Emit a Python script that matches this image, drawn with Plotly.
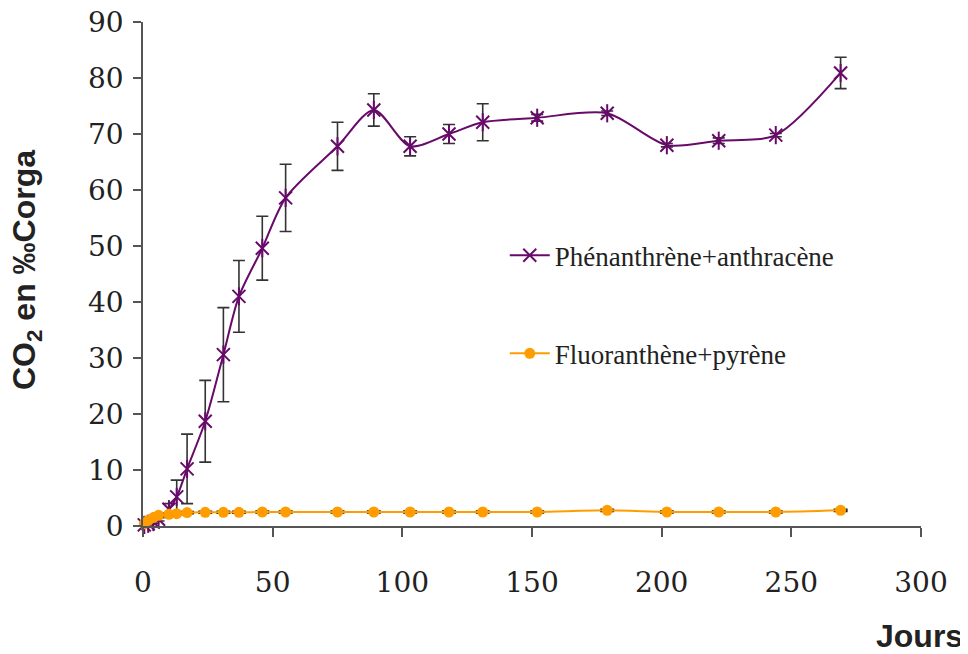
import plotly.graph_objects as go

# --- data ---
days = [0.5, 2, 4, 6, 10, 13, 17, 24, 31, 37, 46, 55, 75, 89, 103, 118, 131, 152, 179, 202, 222, 244, 269]
phen_anth = [0.2, 0.4, 0.7, 1.2, 3.0, 5.2, 10.2, 18.7, 30.6, 41.0, 49.6, 58.6, 67.8, 74.3, 67.8, 70.0, 72.1, 72.9, 73.7, 68.0, 68.8, 69.8, 80.9]
phen_anth_err = [0.1, 0.1, 0.2, 0.3, 1.0, 3.0, 6.2, 7.3, 8.4, 6.4, 5.7, 6.0, 4.3, 2.9, 1.7, 1.7, 3.3, 0.6, 0.4, 0.3, 0.5, 0.3, 2.8]
fluo_pyr = [0.4, 1.0, 1.5, 1.9, 2.1, 2.2, 2.4, 2.45, 2.45, 2.45, 2.5, 2.5, 2.5, 2.5, 2.5, 2.5, 2.5, 2.5, 2.8, 2.5, 2.5, 2.5, 2.8]
fluo_pyr_err = [0.15] * len(days)

x_ticks = [0, 50, 100, 150, 200, 250, 300]
y_ticks = [0, 10, 20, 30, 40, 50, 60, 70, 80, 90]

PURPLE = "#680a6a"
ORANGE = "#ff9d00"
AXIS = "#555555"

fig = go.Figure()

fig.add_trace(go.Scatter(
    x=days, y=phen_anth, name="Phénanthrène+anthracène",
    mode="lines+markers", legendgroup="a",
    line=dict(color=PURPLE, width=2, shape="spline", smoothing=0.8),
    marker=dict(symbol="x-thin-open", size=13, line=dict(color=PURPLE, width=2), color=PURPLE),
    error_y=dict(type="data", array=phen_anth_err, color="#333333", thickness=1.6, width=6),
    cliponaxis=False,
))
fig.add_trace(go.Scatter(
    x=days, y=phen_anth, mode="markers", legendgroup="a", showlegend=False,
    marker=dict(symbol="line-ns-open", size=13, color=PURPLE, line=dict(color=PURPLE, width=2)),
    cliponaxis=False, hoverinfo="skip",
))
fig.add_trace(go.Scatter(
    x=days, y=fluo_pyr, name="Fluoranthène+pyrène",
    mode="lines+markers", legendgroup="b",
    line=dict(color=ORANGE, width=2, shape="spline", smoothing=0.8),
    marker=dict(symbol="circle", size=11, color=ORANGE),
    error_y=dict(type="data", array=fluo_pyr_err, color="#222222", thickness=2, width=7),
    cliponaxis=False,
))

fig.update_layout(
    width=960, height=646,
    margin=dict(l=135, r=47, t=14, b=128),
    paper_bgcolor="white", plot_bgcolor="white",
    showlegend=True,
    legend=dict(
        x=0.465, y=0.585, xanchor="left", yanchor="top",
        bgcolor="rgba(0,0,0,0)",
        font=dict(family="Liberation Serif", size=27, color="#222222"),
        traceorder="grouped", tracegroupgap=60,
        itemwidth=40,
    ),
    xaxis=dict(
        range=[0, 300], tickvals=x_ticks, ticktext=[str(v) for v in x_ticks],
        showgrid=False, zeroline=False, automargin=False,
        showline=True, linecolor=AXIS, linewidth=1.5,
        ticks="outside", ticklen=9, tickwidth=1.5, tickcolor=AXIS,
        tickfont=dict(family="DejaVu Serif", size=28, color="#222222"),
        ticklabelstandoff=22, ticklabeloverflow="allow",
    ),
    yaxis=dict(
        range=[0, 90], tickvals=y_ticks, ticktext=[str(v) for v in y_ticks],
        showgrid=False, zeroline=False, automargin=False,
        showline=True, linecolor=AXIS, linewidth=1.5,
        ticks="outside", ticklen=8, tickwidth=1.5, tickcolor=AXIS,
        tickfont=dict(family="DejaVu Serif", size=28, color="#222222"),
        ticklabelstandoff=4, ticklabeloverflow="allow",
    ),
    annotations=[
        dict(text="<b>CO<sub>2</sub> en ‰Corga</b>", textangle=-90,
             xref="paper", yref="paper", x=(26 - 143) / 778, y=(526 - 270) / 504,
             xanchor="center", yanchor="middle", showarrow=False,
             font=dict(family="Liberation Sans", size=32, color="#222222")),
        dict(text="<b>Jours</b>",
             xref="paper", yref="paper", x=(919 - 143) / 778, y=(526 - 636) / 504,
             xanchor="center", yanchor="middle", showarrow=False,
             font=dict(family="Liberation Sans", size=32, color="#222222")),
    ],
)

fig.write_html("out.html")
